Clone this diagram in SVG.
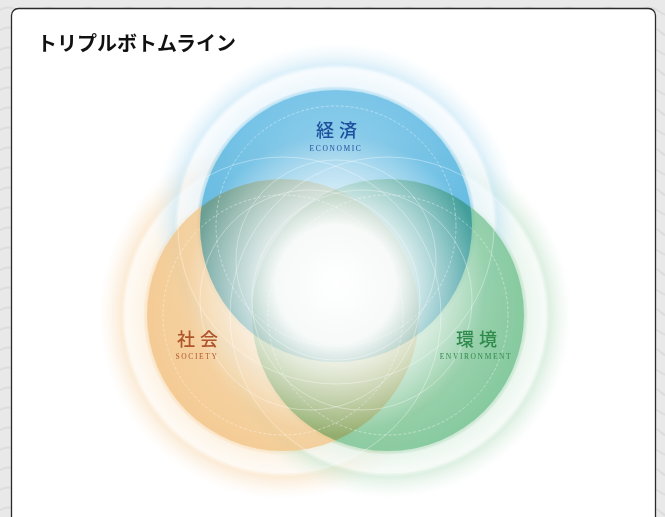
<svg xmlns="http://www.w3.org/2000/svg" width="665" height="517" viewBox="0 0 665 517">
<defs>
<style>
.title{font-family:"Noto Sans CJK JP","Noto Sans",sans-serif;font-weight:700;font-size:20px;fill:#111}
.jp{font-family:"Noto Sans CJK JP",sans-serif;font-weight:500;font-size:18px;text-anchor:middle;letter-spacing:5px}
.en{font-family:"Liberation Serif",serif;font-size:7.5px;text-anchor:middle;letter-spacing:1.6px}
.line{fill:none;stroke:#fff;stroke-width:0.8;stroke-opacity:0.45}
.dash{fill:none;stroke:#fff;stroke-width:0.8;stroke-opacity:0.5;stroke-dasharray:3 2}
.core{mix-blend-mode:multiply}
</style>
<radialGradient id="gB" cx="0.5" cy="0.5" r="0.5">
<stop offset="0.74" stop-color="#7cc7ea" stop-opacity="0.5"/>
<stop offset="0.76" stop-color="#e8f5fc" stop-opacity="0.8"/>
<stop offset="0.85" stop-color="#f2f9fd" stop-opacity="0.6"/>
<stop offset="0.88" stop-color="#c6e6f6" stop-opacity="0.6"/>
<stop offset="1" stop-color="#e6f4fb" stop-opacity="0"/>
</radialGradient>
<radialGradient id="gO" cx="0.5" cy="0.5" r="0.5">
<stop offset="0.74" stop-color="#f5cd96" stop-opacity="0.5"/>
<stop offset="0.76" stop-color="#fdf1e0" stop-opacity="0.8"/>
<stop offset="0.85" stop-color="#fdf6ec" stop-opacity="0.6"/>
<stop offset="0.88" stop-color="#f9dfbd" stop-opacity="0.6"/>
<stop offset="1" stop-color="#fcecd8" stop-opacity="0"/>
</radialGradient>
<radialGradient id="gG" cx="0.5" cy="0.5" r="0.5">
<stop offset="0.74" stop-color="#98d0a8" stop-opacity="0.5"/>
<stop offset="0.76" stop-color="#e6f4ea" stop-opacity="0.8"/>
<stop offset="0.85" stop-color="#f0f8f2" stop-opacity="0.6"/>
<stop offset="0.88" stop-color="#c8e6d0" stop-opacity="0.6"/>
<stop offset="1" stop-color="#e6f3e9" stop-opacity="0"/>
</radialGradient>
<radialGradient id="cB" cx="0.5" cy="0.3" r="0.7">
<stop offset="0" stop-color="#8fcdeb"/>
<stop offset="1" stop-color="#45aedd"/>
</radialGradient>
<radialGradient id="cO" cx="0.6" cy="0.45" r="0.65">
<stop offset="0" stop-color="#f6dcb4"/>
<stop offset="1" stop-color="#f3c383"/>
</radialGradient>
<radialGradient id="cG" cx="0.4" cy="0.45" r="0.65">
<stop offset="0" stop-color="#bfe0c4"/>
<stop offset="1" stop-color="#6fc08e"/>
</radialGradient>
<radialGradient id="wC" cx="0.5" cy="0.5" r="0.5">
<stop offset="0" stop-color="#fff" stop-opacity="1"/>
<stop offset="0.4" stop-color="#fff" stop-opacity="0.95"/>
<stop offset="0.75" stop-color="#fff" stop-opacity="0.4"/>
<stop offset="1" stop-color="#fff" stop-opacity="0"/>
</radialGradient>
<pattern id="marble" width="40" height="40" patternUnits="userSpaceOnUse">
<rect width="40" height="40" fill="#e9e9e9"/>
<path d="M0 10 Q10 4 20 12 T40 8 M0 30 Q12 24 22 33 T40 28" fill="none" stroke="#dddddd" stroke-width="2"/>
</pattern>
</defs>
<rect width="665" height="517" fill="url(#marble)"/>
<rect x="11.5" y="8.5" width="644" height="530" rx="7" fill="#fff" stroke="#2a2a2a" stroke-width="1.3"/>
<text class="title" x="37" y="51">トリプルボトムライン</text>

<g id="glows">
<circle cx="283" cy="315" r="184" fill="url(#gO)"/>
<circle cx="388" cy="315" r="184" fill="url(#gG)"/>
<circle cx="336" cy="226" r="184" fill="url(#gB)"/>
</g>
<g style="isolation:isolate">
<circle id="economic-core" class="core" cx="336" cy="226" r="136" fill="url(#cB)" opacity="0.85"/>
<circle id="society-core" class="core" cx="283" cy="315" r="136" fill="url(#cO)" opacity="0.8"/>
<circle id="environment-core" class="core" cx="388" cy="315" r="136" fill="url(#cG)" opacity="0.8"/>
</g>
<circle cx="336" cy="285" r="150" fill="url(#wC)"/>
<g id="lines">
<circle class="line" cx="336" cy="226" r="158"/>
<circle class="line" cx="283" cy="315" r="158"/>
<circle class="line" cx="388" cy="315" r="158"/>
<circle class="dash" cx="336" cy="226" r="120"/>
<circle class="dash" cx="283" cy="315" r="120"/>
<circle class="dash" cx="388" cy="315" r="120"/>
<circle class="line" cx="336" cy="260" r="100"/>
<circle class="line" cx="310" cy="300" r="110"/>
<circle class="line" cx="362" cy="300" r="110"/>
</g>
<g id="economic">
<text class="jp" x="339" y="137" fill="#1d4f9c">経済</text>
<text class="en" x="336" y="151" fill="#1d4f9c">ECONOMIC</text>
</g>
<g id="society">
<text class="jp" x="200" y="346" fill="#b0552b">社会</text>
<text class="en" x="197" y="359" fill="#b0552b">SOCIETY</text>
</g>
<g id="environment">
<text class="jp" x="479" y="346" fill="#2f8a4c">環境</text>
<text class="en" x="476" y="359" fill="#2f8a4c">ENVIRONMENT</text>
</g>
</svg>
